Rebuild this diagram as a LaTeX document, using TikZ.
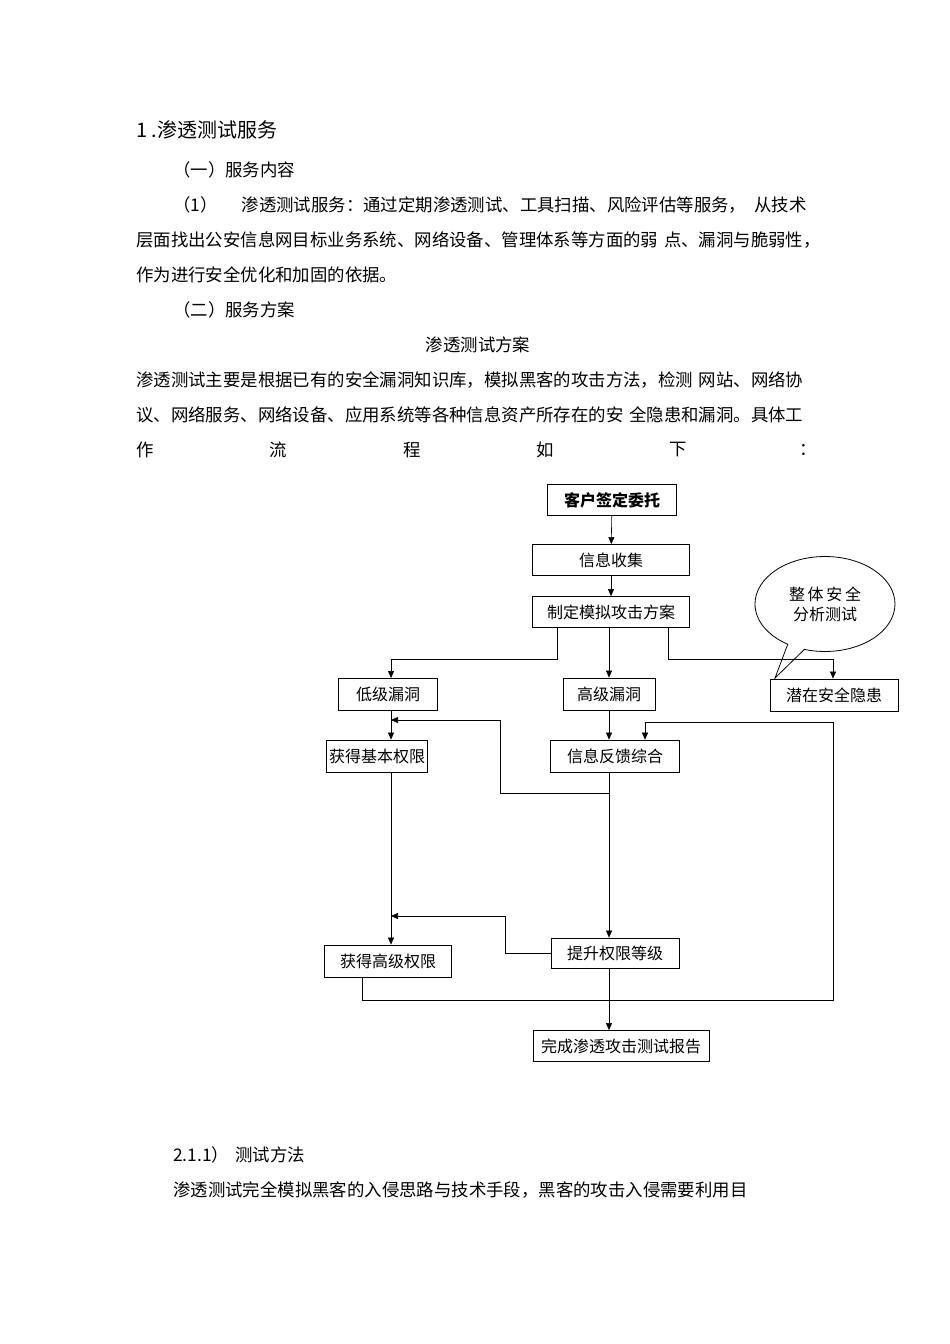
\documentclass[tikz,border=0pt]{standalone}
\usepackage{fontspec}
\setmainfont{Noto Sans CJK SC}
\usetikzlibrary{arrows.meta,shapes.callouts}
\begin{document}
\begin{tikzpicture}[x=1pt,y=-1pt,
  txt/.style={anchor=west,inner sep=0,font=\fontsize{17.4}{17}\selectfont},
  bx/.style={draw,thick,inner sep=0,font=\fontsize{16}{16}\selectfont},
  ln/.style={draw,semithick},
  ar/.style={ln,-{Triangle[length=7pt,width=6pt]}}]
\useasboundingbox[fill=white] (0,0) rectangle (950,1344);
\node[txt,font=\fontsize{20}{20}\selectfont] (t0) at (136,130) {1 .渗透测试服务};
\node[txt] (t1) at (173,170) {（一）服务内容};
\node[txt] (t2) at (173,205) {（1）\hspace{24pt}渗透测试服务：通过定期渗透测试、工具扫描、风险评估等服务，\hspace{8pt}从技术};
\node[txt] (t3) at (136,240) {层面找出公安信息网目标业务系统、网络设备、管理体系等方面的弱\hspace{6pt}点、漏洞与脆弱性，};
\node[txt] (t4) at (136,275) {作为进行安全优化和加固的依据。};
\node[txt] (t5) at (173,310) {（二）服务方案};
\node[txt,anchor=center] (t6) at (478,345) {渗透测试方案};
\node[txt] (t7) at (136,380) {渗透测试主要是根据已有的安全漏洞知识库，模拟黑客的攻击方法，检测\hspace{6pt}网站、网络协};
\node[txt] (t8) at (136,415) {议、网络服务、网络设备、应用系统等各种信息资产所存在的安\hspace{6pt}全隐患和漏洞。具体工};
\foreach \c/\x [count=\i] in {作/145,流/278,程/412,如/545,下/678,：/808}
  \node[txt,anchor=center] (w\i) at (\x,450) {\c};
\node[txt] (t9) at (173,1155) {2.1.1）\hspace{6pt}测试方法};
\node[txt] (t10) at (173,1190) {渗透测试完全模拟黑客的入侵思路与技术手段，黑客的攻击入侵需要利用目};

\node[bx,minimum width=129,minimum height=31,font=\bfseries\fontsize{16}{16}\selectfont] (a) at (612,500) {客户签定委托};
\node[bx,minimum width=157,minimum height=31] (b) at (611,560) {信息收集};
\node[bx,minimum width=157,minimum height=31] (c) at (611,612) {制定模拟攻击方案};
\node[bx,minimum width=99,minimum height=32] (d) at (388,694) {低级漏洞};
\node[bx,minimum width=92,minimum height=32] (e) at (609,694) {高级漏洞};
\node[bx,minimum width=128,minimum height=32] (f) at (834,695) {潜在安全隐患};
\node[bx,minimum width=101,minimum height=32] (g) at (377,756) {获得基本权限};
\node[bx,minimum width=129,minimum height=32] (h) at (615,756) {信息反馈综合};
\node[bx,minimum width=127,minimum height=32] (i) at (388,961) {获得高级权限};
\node[bx,minimum width=128,minimum height=30] (j) at (615,953) {提升权限等级};
\node[bx,minimum width=176,minimum height=31] (k) at (621,1046) {完成渗透攻击测试报告};
\node[ellipse callout,draw,thick,minimum width=140,minimum height=95,
  callout absolute pointer={(775,678)},align=center,font=\fontsize{16}{20}\selectfont] (q) at (825,604) {整\,体\,安\,全\\分析测试\hspace{16pt}};

\coordinate (j1) at (391,720);
\coordinate (j2) at (645,722);
\draw[ar] (a) -- (b);
\draw[ar] (b) -- (c);
\draw[ar] (c.south -| 557,0) |- (391,659) -- (391,678);
\draw[ar] (c.south -| 609,0) -- (e.north -| 609,0);
\draw[ar] (c.south -| 668,0) |- (833,659) -- (f.north -| 833,0);
\draw[ar] (d.south -| 391,0) -- (g.north -| 391,0);
\draw[ar] (e) -- (e |- h.north);
\draw[ar] (609,793) -| (500,720) -- (j1);
\draw[ar] (i.south -| 362,0) |- (833,1000) |- (j2) -- (h.north -| 645,0);
\draw[ar] (h.south -| 609,0) -- (j.north -| 609,0);
\draw[ar] (g.south -| 391,0) -- (i.north -| 391,0);
\draw[ar] (j.west) -| (505,916) -- (391,916);
\draw[ar] (j.south -| 609,0) -- (k.north -| 609,0);
\end{tikzpicture}
\end{document}
